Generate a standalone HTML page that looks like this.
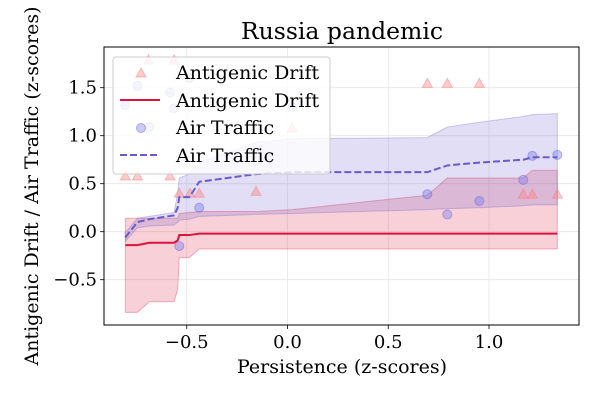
<!DOCTYPE html>
<html><head><meta charset="utf-8"><style>
body{margin:0;background:#fff;}
svg{display:block;font-family:"DejaVu Serif","Liberation Serif",serif;}
</style></head><body>
<svg id="c" width="600" height="400" xmlns="http://www.w3.org/2000/svg"></svg>
<script>
const xTicks=[-0.5,0,0.5,1.0];
const xTickLabels=["\u22120.5","0.0","0.5","1.0"];
const yTicks=[-0.5,0,0.5,1.0,1.5];
const yTickLabels=["\u22120.5","0.0","0.5","1.0","1.5"];
const drX=[-0.805,-0.745,-0.69,-0.583,-0.563,-0.537,-0.484,-0.438,-0.156,0.024,0.694,0.793,0.952,1.170,1.215,1.339];
const drY=[0.58,0.58,1.79,0.58,1.79,0.40,0.40,0.40,0.42,1.08,1.545,1.545,1.545,0.39,0.39,0.39];
const atX=[-0.805,-0.745,-0.686,-0.583,-0.563,-0.487,-0.438,-0.537,0.024,0.694,0.793,0.952,1.170,1.215,1.339];
const atY=[1.32,1.52,1.09,1.45,1.285,1.60,0.25,-0.15,1.30,0.39,0.18,0.32,0.54,0.79,0.80];
const fitX=[-0.805,-0.745,-0.686,-0.563,-0.545,-0.537,-0.487,-0.438,-0.156,0.024,0.694,0.793,0.952,1.170,1.215,1.339];
const redLine=[-0.14,-0.14,-0.115,-0.115,-0.09,-0.035,-0.035,-0.02,-0.02,-0.02,-0.02,-0.02,-0.02,-0.02,-0.02,-0.02];
const redUp=[0.14,0.14,0.14,0.14,0.14,0.19,0.20,0.21,0.21,0.23,0.38,0.56,0.56,0.56,0.64,0.64];
const redLo=[-0.84,-0.84,-0.73,-0.73,-0.60,-0.27,-0.27,-0.18,-0.18,-0.18,-0.18,-0.18,-0.18,-0.18,-0.18,-0.18];
const bluLine=[-0.06,0.10,0.13,0.17,0.25,0.36,0.36,0.52,0.60,0.62,0.62,0.69,0.72,0.75,0.775,0.775];
const bluUp=[-0.01,0.14,0.16,0.20,0.40,0.56,0.60,0.72,0.93,0.97,0.98,1.09,1.14,1.20,1.22,1.23];
const bluLo=[-0.10,0.04,0.06,0.07,0.10,0.12,0.13,0.16,0.18,0.19,0.23,0.24,0.25,0.27,0.28,0.28];

const L=104,R=579,T=47,B=325;
const xs=v=>287.5+v*201.5;
const ys=v=>231.7-v*96;
const svg=document.getElementById('c');
const NS='http://www.w3.org/2000/svg';
function mk(t,a,txt){const e=document.createElementNS(NS,t);for(const k in a)e.setAttribute(k,a[k]);if(txt!==undefined)e.textContent=txt;svg.appendChild(e);return e;}

xTicks.forEach((v,i)=>{
 let g=mk('line',{x1:xs(v),x2:xs(v),y1:T,y2:B,stroke:'#e6e6e6','stroke-width':0.8});
 
 
 let t=mk('line',{x1:xs(v),x2:xs(v),y1:B,y2:B+4,stroke:'#000','stroke-width':0.8});
 
 
 let l=mk('text',{x:xs(v),y:B+23,'text-anchor':'middle','font-size':18},xTickLabels[i]);
 
 
});
yTicks.forEach((v,i)=>{
 let g=mk('line',{x1:L,x2:R,y1:ys(v),y2:ys(v),stroke:'#e6e6e6','stroke-width':0.8});
 
 
 let t=mk('line',{x1:L-4,x2:L,y1:ys(v),y2:ys(v),stroke:'#000','stroke-width':0.8});
 
 
 let l=mk('text',{x:L-7,y:ys(v)+6,'text-anchor':'end','font-size':18},yTickLabels[i]);
 
 
});

function band(up,lo,fill,stroke,name){
 let d='M'+fitX.map((x,i)=>xs(x)+','+ys(up[i])).join('L');
 for(let i=fitX.length-1;i>=0;i--)d+='L'+xs(fitX[i])+','+ys(lo[i]);
 let p=mk('path',{d:d+'Z',fill:fill,'fill-opacity':0.2,stroke:stroke,'stroke-opacity':0.3,'stroke-width':1});
 
 
}
band(redUp,redLo,'#dc143c','#dc143c','antigenic-drift-ci-band');
band(bluUp,bluLo,'#6a5acd','#6a5acd','air-traffic-ci-band');

drX.forEach((x,i)=>{
 const cx=xs(x),cy=ys(drY[i]);
 let p=mk('path',{d:`M${cx},${cy-5}L${cx+5},${cy+4}L${cx-5},${cy+4}Z`,fill:'#ff7f7f','fill-opacity':0.4,stroke:'#ff7f7f','stroke-opacity':0.5});
 
 
});
atX.forEach((x,i)=>{
 let c=mk('circle',{cx:xs(x),cy:ys(atY[i]),r:4.5,fill:'#7b7bee','fill-opacity':0.4,stroke:'#6a6ae0','stroke-opacity':0.5});
 
 
});
let rl=mk('polyline',{points:fitX.map((x,i)=>xs(x)+','+ys(redLine[i])).join(' '),fill:'none',stroke:'#dc143c','stroke-width':2});


let bl=mk('polyline',{points:fitX.map((x,i)=>xs(x)+','+ys(bluLine[i])).join(' '),fill:'none',stroke:'#6a5acd','stroke-width':2,'stroke-dasharray':'7,3'});



let fr=mk('rect',{x:L,y:T,width:R-L,height:B-T,fill:'none',stroke:'#000','stroke-width':1});



let lg=mk('rect',{x:113,y:57,width:217,height:117,rx:3,fill:'#fff','fill-opacity':0.8,stroke:'#ccc'});


const ly=[73,101,128,156],lt=['Antigenic Drift','Antigenic Drift','Air Traffic','Air Traffic'];
let m1=mk('path',{d:'M141,68L146,77L136,77Z',fill:'#ff7f7f','fill-opacity':0.4,stroke:'#ff7f7f','stroke-opacity':0.5});


let m2=mk('line',{x1:120,x2:160,y1:100,y2:100,stroke:'#dc143c','stroke-width':2});


let m3=mk('circle',{cx:141,cy:128,r:4.5,fill:'#7b7bee','fill-opacity':0.4,stroke:'#6a6ae0','stroke-opacity':0.5});


let m4=mk('line',{x1:120,x2:160,y1:155,y2:155,stroke:'#6a5acd','stroke-width':2,'stroke-dasharray':'7,3'});


lt.forEach((t,i)=>{
 let e=mk('text',{x:176,y:ly[i]+6,'font-size':19},t);
 
 
});

let ti=mk('text',{x:342,y:39,'text-anchor':'middle','font-size':23.5},'Russia pandemic');


let xl=mk('text',{x:342,y:373,'text-anchor':'middle','font-size':19},'Persistence (z-scores)');


let yl=mk('text',{x:0,y:0,'text-anchor':'middle','font-size':19,transform:'translate(38,186) rotate(-90)'},'Antigenic Drift / Air Traffic (z-scores)');


</script>
</body></html>
